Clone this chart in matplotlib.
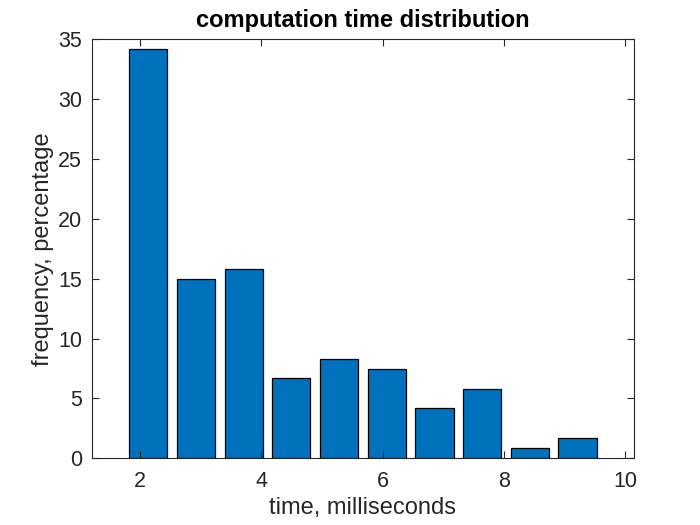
import matplotlib.pyplot as plt
import numpy as np

plt.rcParams['font.family'] = ['Liberation Sans', 'DejaVu Sans']

# bin centres (ms) and frequency (%)
bin_centers = [2.134, 2.921, 3.708, 4.495, 5.282, 6.069, 6.856, 7.643, 8.430, 9.217]
freq = [34.17, 15.0, 15.83, 6.67, 8.33, 7.5, 4.17, 5.83, 0.83, 1.67]
bin_width = 0.787

fig = plt.figure(figsize=(7, 5.25), dpi=100)
ax = fig.add_axes([0.131, 0.127, 0.774, 0.798])

ax.bar(bin_centers, freq, width=0.8 * bin_width, color='#0072BD',
       edgecolor='black', linewidth=0.9)

ax.set_xlim(1.2, 10.14)
ax.set_ylim(0, 35)
ax.set_xticks([2, 4, 6, 8, 10])
ax.set_yticks(np.arange(0, 36, 5))

ax.tick_params(direction='in', top=True, right=True, length=5,
               labelsize=15.5, colors='#262626', width=0.8)
ax.tick_params(axis='x', pad=9)
ax.tick_params(axis='y', pad=7)
for s in ax.spines.values():
    s.set_color('#262626')
    s.set_linewidth(0.8)

ax.set_title('computation time distribution', fontsize=17, fontweight='bold', pad=9)
ax.set_xlabel('time, milliseconds', fontsize=17, color='#262626', labelpad=4)
ax.set_ylabel('frequency, percentage', fontsize=17, color='#262626', labelpad=3)

fig.savefig('out.png', dpi=100)
